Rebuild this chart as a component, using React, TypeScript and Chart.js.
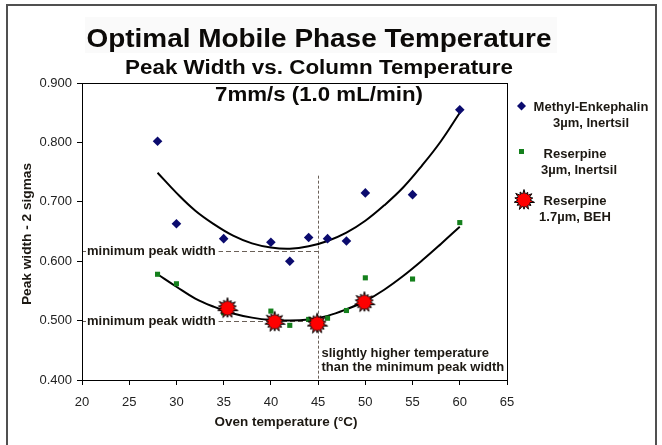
import React, { useEffect, useRef } from 'react';
import { Chart, registerables } from 'chart.js';

Chart.register(...registerables);

// ---------- texts ----------
const TITLE = 'Optimal Mobile Phase Temperature';
const SUBTITLE = 'Peak Width vs. Column Temperature';
const FLOW_LABEL = '7mm/s (1.0 mL/min)';
const X_TITLE = 'Oven temperature (°C)';
const Y_TITLE = 'Peak width - 2 sigmas';

// ---------- axes ----------
const xMin = 20;
const xMax = 65;
const xStep = 5;
const yMin = 0.4;
const yMax = 0.9;
const yStep = 0.1;

// ---------- series ----------
const methylTemp = [28, 30, 35, 40, 42, 44, 46, 48, 50, 55, 60];
const methylWidth = [0.802, 0.663, 0.638, 0.632, 0.600, 0.640, 0.638, 0.634, 0.715, 0.712, 0.855];

const reserpine3Temp = [28, 30, 35, 40, 42, 44, 46, 48, 50, 55, 60];
const reserpine3Width = [0.578, 0.562, 0.513, 0.516, 0.492, 0.502, 0.504, 0.517, 0.572, 0.570, 0.665];

const reserpineBehTemp = [35.4, 40.4, 44.9, 49.9];
const reserpineBehWidth = [0.521, 0.498, 0.495, 0.531];

// trend lines
const trendTemp = [28, 30, 32, 34, 36, 38, 40, 42, 44, 46, 48, 50, 52, 54, 56, 58, 60];
const methylTrend = [0.749, 0.715, 0.685, 0.662, 0.643, 0.630, 0.623, 0.621, 0.625, 0.634, 0.648, 0.668, 0.694, 0.724, 0.761, 0.802, 0.850];
const reserpineTrend = [0.578, 0.557, 0.537, 0.523, 0.512, 0.505, 0.501, 0.500, 0.502, 0.508, 0.519, 0.533, 0.552, 0.575, 0.601, 0.629, 0.658];

// ---------- annotations ----------
const minPeakLevels = [0.617, 0.500];
const minPeakLabel = 'minimum peak width';
const chosenTemp = 45;
const chosenTempTop = 0.744;
const chosenLabel = ['slightly higher temperature', 'than the minimum peak width'];

// ---------- legend ----------
const legendLabels = [
  ['Methyl-Enkephalin', '3µm, Inertsil'],
  ['Reserpine', '3µm, Inertsil'],
  ['Reserpine', '1.7µm, BEH'],
];

const BLUE = '#0b0b6e';
const GREEN = '#14801c';
const RED = '#ff0000';
const TEXT = '#1c1812';
const FONT = "Arial, 'Liberation Sans', sans-serif";
const NARROW = "'Liberation Sans Narrow', 'Arial Narrow', Arial, sans-serif";

function makeBurst(): HTMLCanvasElement {
  const size = 24;
  const c = document.createElement('canvas');
  c.width = size;
  c.height = size;
  const ctx = c.getContext('2d')!;
  const cx = size / 2;
  const n = 14;
  const outer = [10.5, 8.5, 10, 9, 10.8, 8.8, 10.2, 9.2, 10.5, 8.6, 10, 9.4, 10.6, 8.9];
  ctx.beginPath();
  for (let i = 0; i < 2 * n; i++) {
    const a = (i * Math.PI) / n - Math.PI / 2;
    const r = i % 2 === 0 ? outer[i / 2] : 6;
    const px = cx + r * Math.cos(a);
    const py = cx + r * Math.sin(a);
    if (i === 0) ctx.moveTo(px, py);
    else ctx.lineTo(px, py);
  }
  ctx.closePath();
  ctx.fillStyle = RED;
  ctx.fill();
  ctx.strokeStyle = '#000';
  ctx.lineWidth = 1;
  ctx.stroke();
  ctx.beginPath();
  ctx.arc(cx, cx, 6.3, 0, Math.PI * 2);
  ctx.fillStyle = RED;
  ctx.fill();
  return c;
}

function fitText(
  ctx: CanvasRenderingContext2D,
  text: string,
  x: number,
  y: number,
  font: string,
  width: number,
  align: 'left' | 'center' = 'center'
) {
  ctx.save();
  ctx.font = font;
  const w = ctx.measureText(text).width;
  const s = width / w;
  ctx.translate(x, y);
  ctx.scale(s, 1);
  ctx.textAlign = align;
  ctx.fillText(text, 0, 0);
  ctx.restore();
}

export default function App() {
  const ref = useRef<HTMLCanvasElement | null>(null);

  useEffect(() => {
    if (!ref.current) return;
    const burst = makeBurst();

    const overlay = {
      id: 'overlay',
      beforeDraw(chart: any) {
        const { ctx } = chart;
        ctx.save();
        ctx.fillStyle = '#ffffff';
        ctx.fillRect(0, 0, chart.width, chart.height);
        ctx.fillStyle = '#fafafa';
        ctx.fillRect(85, 17, 472, 36);
        ctx.restore();
      },
      beforeDatasetsDraw(chart: any) {
        const { ctx } = chart;
        const x = chart.scales.x;
        const y = chart.scales.y;
        const px = Math.round(x.getPixelForValue(chosenTemp)) + 0.5;
        ctx.save();
        ctx.strokeStyle = '#6a6058';
        ctx.lineWidth = 1;
        ctx.setLineDash([5, 3]);
        for (const v of minPeakLevels) {
          const py = Math.round(y.getPixelForValue(v)) + 0.5;
          ctx.beginPath();
          ctx.moveTo(x.left, py);
          ctx.lineTo(px, py);
          ctx.stroke();
        }
        ctx.setLineDash([3, 2]);
        ctx.beginPath();
        ctx.moveTo(px, y.getPixelForValue(chosenTempTop));
        ctx.lineTo(px, y.bottom);
        ctx.stroke();
        ctx.setLineDash([]);

        ctx.font = `bold 13px ${FONT}`;
        ctx.textBaseline = 'middle';
        ctx.textAlign = 'left';
        for (const v of minPeakLevels) {
          const py = y.getPixelForValue(v);
          const w = ctx.measureText(minPeakLabel).width;
          ctx.fillStyle = '#fff';
          ctx.fillRect(x.left + 4, py - 7, w + 4, 14);
          ctx.fillStyle = TEXT;
          ctx.fillText(minPeakLabel, x.left + 5, py + 0.5);
        }
        chosenLabel.forEach((line, i) => {
          ctx.fillStyle = TEXT;
          ctx.fillText(line, px + 3, y.bottom - 27 + i * 14.6);
        });
        ctx.restore();
      },
      afterDraw(chart: any) {
        const { ctx, chartArea } = chart;
        ctx.save();
        // plot frame
        ctx.strokeStyle = '#000';
        ctx.lineWidth = 1;
        ctx.strokeRect(
          Math.round(chartArea.left) + 0.5,
          Math.round(chartArea.top) + 0.5,
          Math.round(chartArea.right - chartArea.left),
          Math.round(chartArea.bottom - chartArea.top)
        );
        // outer frame
        ctx.strokeStyle = '#505050';
        ctx.lineWidth = 2;
        ctx.strokeRect(7, 5, 649, 460);

        // titles
        ctx.fillStyle = '#0c0a08';
        ctx.textBaseline = 'alphabetic';
        fitText(ctx, TITLE, 319, 47, `bold 26px ${FONT}`, 465);
        fitText(ctx, SUBTITLE, 319, 74, `bold 20px ${FONT}`, 388);
        fitText(ctx, FLOW_LABEL, 319, 101, `bold 21px ${FONT}`, 208);

        // axis titles
        ctx.fillStyle = TEXT;
        fitText(ctx, X_TITLE, 286, 426, `bold 13px ${FONT}`, 143);
        ctx.save();
        ctx.translate(31, 234);
        ctx.rotate(-Math.PI / 2);
        fitText(ctx, Y_TITLE, 0, 0, `bold 13px ${FONT}`, 142);
        ctx.restore();

        // legend
        ctx.font = `bold 13px ${FONT}`;
        ctx.textAlign = 'center';
        ctx.textBaseline = 'middle';
        const rows = [107, 154, 201];
        const centers = [591, 575, 575];
        const subCenters = [591, 579, 575];
        legendLabels.forEach((lines, i) => {
          const cy = rows[i];
          ctx.fillStyle = TEXT;
          ctx.fillText(lines[0], centers[i], cy);
          ctx.fillText(lines[1], subCenters[i], cy + 16);
        });
        // markers
        ctx.fillStyle = BLUE;
        ctx.beginPath();
        ctx.moveTo(521.5, 101.5);
        ctx.lineTo(526, 106);
        ctx.lineTo(521.5, 110.5);
        ctx.lineTo(517, 106);
        ctx.closePath();
        ctx.fill();
        ctx.fillStyle = GREEN;
        ctx.fillRect(519, 149, 5, 5);
        ctx.drawImage(burst, 524 - 12, 200 - 12);
        ctx.restore();
      },
    };

    const chart = new Chart(ref.current, {
      type: 'scatter',
      data: {
        datasets: [
          {
            label: 'Reserpine 1.7µm, BEH',
            data: reserpineBehTemp.map((t, i) => ({ x: t, y: reserpineBehWidth[i] })),
            pointStyle: burst as any,
            pointRadius: 10,
            showLine: false,
            order: 0,
          },
          {
            label: 'Methyl-Enkephalin 3µm, Inertsil',
            data: methylTemp.map((t, i) => ({ x: t, y: methylWidth[i] })),
            pointStyle: 'rectRot',
            pointRadius: 4.8,
            backgroundColor: BLUE,
            borderColor: BLUE,
            borderWidth: 0,
            showLine: false,
            order: 1,
          },
          {
            label: 'Reserpine 3µm, Inertsil',
            data: reserpine3Temp.map((t, i) => ({ x: t, y: reserpine3Width[i] })),
            pointStyle: 'rect',
            pointRadius: 3.6,
            backgroundColor: GREEN,
            borderColor: GREEN,
            borderWidth: 0,
            showLine: false,
            order: 2,
          },
          {
            label: 'Methyl trend',
            data: trendTemp.map((t, i) => ({ x: t, y: methylTrend[i] })),
            showLine: true,
            pointRadius: 0,
            borderColor: '#000',
            borderWidth: 2,
            tension: 0.4,
            order: 3,
          },
          {
            label: 'Reserpine trend',
            data: trendTemp.map((t, i) => ({ x: t, y: reserpineTrend[i] })),
            showLine: true,
            pointRadius: 0,
            borderColor: '#000',
            borderWidth: 2,
            tension: 0.4,
            order: 4,
          },
        ],
      },
      options: {
        responsive: false,
        animation: false,
        devicePixelRatio: 1,
        layout: { padding: { left: 0, top: 83, right: 155, bottom: 0 } },
        plugins: {
          legend: { display: false },
          title: { display: false },
          tooltip: { enabled: false },
        },
        scales: {
          x: {
            type: 'linear',
            min: xMin,
            max: xMax,
            ticks: {
              stepSize: xStep,
              color: '#222',
              font: { family: NARROW, size: 13 },
              padding: 10,
            },
            grid: { display: true, drawOnChartArea: false, tickLength: 5, color: '#000' },
            border: { color: '#000' },
            afterFit: (s: any) => {
              s.height = 65;
            },
          },
          y: {
            type: 'linear',
            min: yMin,
            max: yMax,
            ticks: {
              stepSize: yStep,
              color: '#222',
              font: { family: NARROW, size: 13 },
              padding: 5,
              callback: (v: any) => Number(v).toFixed(3),
            },
            grid: { display: true, drawOnChartArea: false, tickLength: 5, color: '#000' },
            border: { color: '#000' },
            afterFit: (s: any) => {
              s.width = 82;
            },
          },
        },
      },
      plugins: [overlay],
    } as any);

    return () => chart.destroy();
  }, []);

  return (
    <div style={{ position: 'fixed', left: 0, top: 0, width: 662, height: 445, background: '#fff' }}>
      <canvas ref={ref} width={662} height={445} style={{ display: 'block', width: 662, height: 445 }} />
    </div>
  );
}
